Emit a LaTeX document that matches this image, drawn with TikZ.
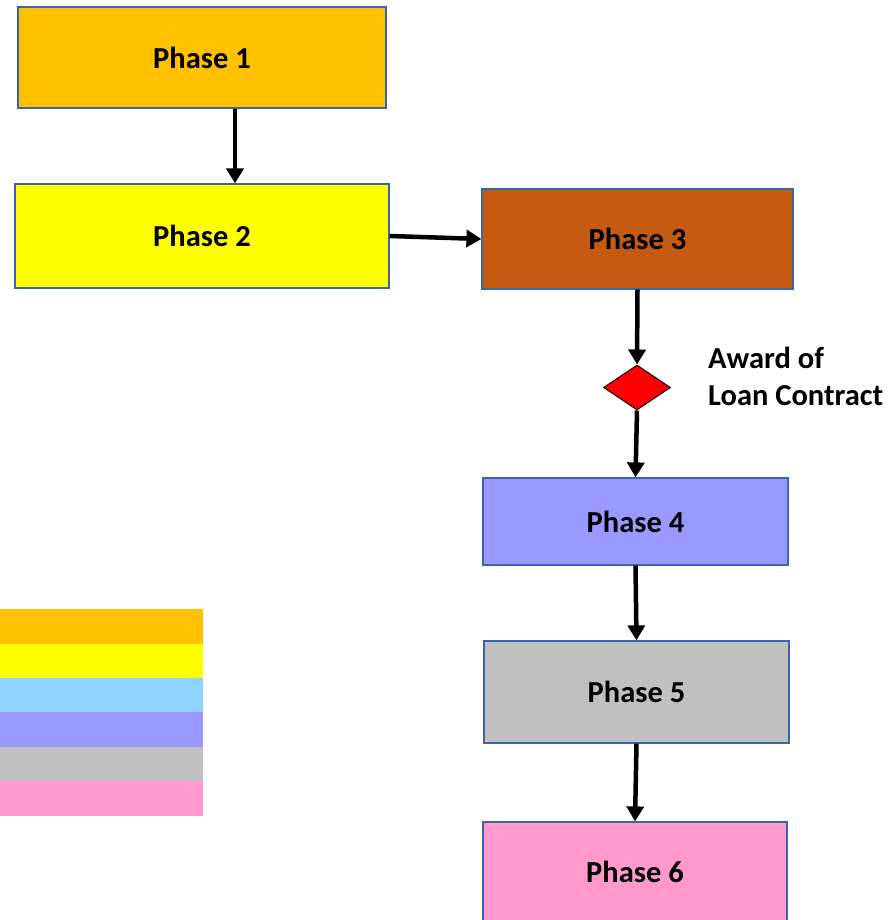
\documentclass[tikz,border=0pt]{standalone}
\usepackage{fontspec}
\setmainfont{Carlito}
\usetikzlibrary{shapes.geometric,arrows.meta}
\definecolor{cP1}{HTML}{FFC000}
\definecolor{cP2}{HTML}{FFFF00}
\definecolor{cP3}{HTML}{C55A11}
\definecolor{cP4}{HTML}{9999FF}
\definecolor{cP5}{HTML}{C0C0C0}
\definecolor{cP6}{HTML}{FF99CC}
\definecolor{cLB}{HTML}{8FD3FE}
\definecolor{edge}{RGB}{60,100,170}
\tikzset{
  phasebox/.style={draw=edge, line width=1.2pt, rectangle, inner sep=0pt,
    font=\fontsize{30.5}{36}\selectfont\bfseries, text=black},
  conn/.style={line width=4.5pt, -{Triangle[width=17pt,length=15pt]}},
  legend/.style={fill=#1, draw=none}
}
\begin{document}
\begin{tikzpicture}[x=1pt,y=-1pt]
\useasboundingbox (0,0) rectangle (895,920);
\fill[white] (0,0) rectangle (895,920);
\node[phasebox, fill=cP1, minimum width=368pt, minimum height=101pt] (p1) at (202,57.5) {Phase 1};
\node[phasebox, fill=cP2, minimum width=374pt, minimum height=104pt] (p2) at (202,236) {Phase 2};
\node[phasebox, fill=cP3, minimum width=311pt, minimum height=100pt] (p3) at (637.5,239) {Phase 3};
\node[diamond, draw=black, line width=1pt, fill=red, minimum width=67pt, minimum height=45pt, inner sep=0pt] (d) at (637,387.5) {};
\node[anchor=north west, align=left, inner sep=0pt, font=\fontsize{30.5}{37}\selectfont\bfseries] (lbl) at (708,347) {Award of\\Loan Contract};
\node[phasebox, fill=cP4, minimum width=305pt, minimum height=87pt] (p4) at (635.5,521.5) {Phase 4};
\node[phasebox, fill=cP5, minimum width=305pt, minimum height=102pt] (p5) at (636.5,692) {Phase 5};
\node[phasebox, fill=cP6, minimum width=304pt, minimum height=99pt] (p6) at (635,871.5) {Phase 6};
% connectors
\draw[conn] ([xshift=33pt]p1.south) -- ([xshift=33pt]p2.north);
\draw[conn] (p2.east) -- (p3.west);
\draw[conn] (p3.south) -- (d.north);
\draw[conn] (d.south) -- (p4.north);
\draw[conn] (p4.south) -- (p5.north);
\draw[conn] (p5.south) -- (p6.north);
% legend
\fill[cP1] (0,609) rectangle (203,643.5);
\fill[cP2] (0,643.5) rectangle (203,678);
\fill[cLB] (0,678) rectangle (203,712);
\fill[cP4] (0,712) rectangle (203,747);
\fill[cP5] (0,747) rectangle (203,781);
\fill[cP6] (0,781) rectangle (203,816);
\end{tikzpicture}
\end{document}
